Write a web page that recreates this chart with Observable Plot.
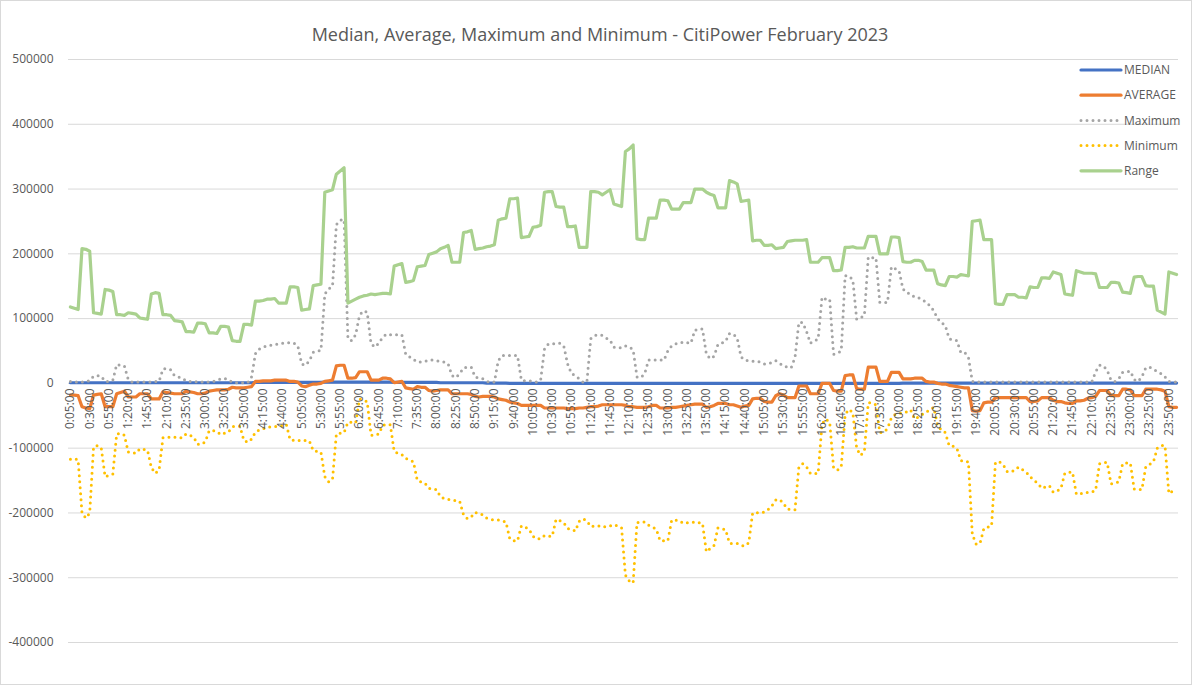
<!DOCTYPE html>
<html><head><meta charset="utf-8">
<script src="https://cdn.jsdelivr.net/npm/d3@7"></script>
<script src="https://cdn.jsdelivr.net/npm/@observablehq/plot@0.6"></script>
<style>body{margin:0;background:#fff}</style>
</head><body><div id="chart"></div>
<script>
// Values are in thousands (multiplied by UNIT when the table is built)
const UNIT = 1000;
const title = "Median, Average, Maximum and Minimum - CitiPower February 2023";
const seriesNames = ["MEDIAN", "AVERAGE", "Maximum", "Minimum", "Range"];

// 5-minute interval categories 0:05:00 ... 23:55:00, 0:00:00
const times = d3.range(288).map(i => {
  const m = 5 * (i + 1);
  return `${Math.floor(m / 60) % 24}:${String(m % 60).padStart(2, "0")}:00`;
});
const tickLabels = times.filter((_, i) => i % 5 === 0);

const median = [
 1,1,1, 1,1,1, 1,1,1, 1,1,1,
 1,1,1, 1,1,1, 1,1,1, 1,1,1,
 1,1,1, 1,1,1, 1,1,1, 1,1,1,
 1,1,1, 1,1,1, 1,1,1, 1,1,1,
 1.5,1.5,1.5, 1.5,1.5,1.5, 1.5,1.5,1.5, 1.5,1.5,1.5,
 1.5,1.5,1.5, 1.5,1.5,1.5, 2,2,2, 2,2,2,
 2,2,2, 2,2,2, 2,2,2, 2,2,2,
 1.5,1.5,1.5, 1.5,1.5,1.5, 1.5,1.5,1.5, 1.5,1.5,1.5,
 1,1,1, 1,1,1, 1,1,1, 1,1,1,
 0.5,0.5,0.5, 0.5,0.5,0.5, 0,0,0, 0,0,0,
 0,0,0, 0,0,0, 0,0,0, 0,0,0,
 0,0,0, 0,0,0, 0,0,0, 0,0,0,
 0,0,0, 0,0,0, 0,0,0, 0,0,0,
 0,0,0, 0,0,0, 0,0,0, 0,0,0,
 0,0,0, 0,0,0, 0,0,0, 0,0,0,
 0,0,0, 0,0,0, 0,0,0, 0,0,0,
 0,0,0, 0,0,0, 0,0,0, 0,0,0,
 0,0,0, 0,0,0, 0,0,0, 0,0,0,
 0.5,0.5,0.5, 0.5,0.5,0.5, 0.5,0.5,0.5, 0.5,0.5,0.5,
 0.5,0.5,0.5, 0.5,0.5,0.5, 0.5,0.5,0.5, 0.5,0.5,0.5,
 0.5,0.5,0.5, 0.5,0.5,0.5, 0.5,0.5,0.5, 0.5,0.5,0.5,
 0.5,0.5,0.5, 0.5,0.5,0.5, 0.5,0.5,0.5, 0.5,0.5,0.5,
 0.5,0.5,0.5, 0.5,0.5,0.5, 0.5,0.5,0.5, 0.5,0.5,0.5,
 0.5,0.5,0.5, 0.5,0.5,0.5, 0.5,0.5,0.5, 0.5,0.5,0.5
];

const average = [
 -18,-18,-19, -36,-38,-39, -18,-17,-16, -36,-36,-36,
 -16,-14,-12, -21,-21,-21, -16,-16,-16, -24,-24,-24,
 -13,-14,-15, -16,-16,-16, -12,-13,-14, -16,-16,-15,
 -12,-11,-10, -10,-10,-9, -6,-7,-7, -7,-6,-5,
 3,3,4, 4,4,5, 5,5,5, 3,3,2,
 -4,-5,-3, -1,-1,0, 3,4,5, 27,28,28,
 8,8,9, 18,18,18, 5,5,5, 8,8,7,
 1,2,3, -7,-8,-9, -5,-6,-6, -11,-12,-11,
 -10,-10,-10, -16,-16,-16, -16,-16,-17, -20,-21,-20,
 -20,-20,-21, -24,-25,-26, -29,-30,-31, -34,-34,-34,
 -34,-34,-34, -38,-38,-38, -38,-38,-38, -39,-39,-39,
 -38,-38,-37, -36,-36,-35, -33,-33,-33, -33,-33,-33,
 -34,-36,-36, -37,-37,-37, -36,-34,-34, -38,-38,-38,
 -37,-37,-36, -35,-34,-33, -32,-32,-32, -37,-36,-34,
 -31,-31,-31, -33,-33,-35, -37,-35,-34, -24,-23,-23,
 -28,-29,-29, -19,-16,-18, -22,-22,-22, -4,-4,-4,
 -16,-16,-16, 0,0,0, -11,-12,-12, 12,13,13,
 -8,-9,-9, 25,25,25, 3,3,3, 17,17,17,
 7,7,7, 8,8,8, 3,2,2, 0,-1,-1,
 -3,-4,-5, -6,-7,-7, -42,-43,-42, -30,-29,-29,
 -22,-22,-22, -22,-22,-22, -22,-22,-22, -28,-28,-27,
 -22,-22,-22, -26,-28,-28, -30,-31,-31, -27,-27,-26,
 -23,-22,-20, -11,-11,-11, -19,-19,-19, -9,-9,-10,
 -19,-19,-19, -9,-9,-9, -9,-10,-12, -36,-37,-37
];

const maximum = [
 3,2,2, 2,3,4, 11,12,11, 3,3,5,
 29,28,27, 6,2,2, 2,2,2, 2,3,3,
 22,23,21, 12,10,8, 4,3,3, 2,2,2,
 2,3,5, 7,8,5, 2,1,1, 1,1,10,
 46,53,56, 58,59,60, 61,62,62, 63,62,58,
 30,28,35, 48,50,51, 138,146,150, 245,252,253,
 69,66,75, 105,112,110, 61,56,62, 71,76,75,
 75,75,75, 45,41,37, 33,33,34, 36,36,35,
 34,33,30, 12,9,15, 24,25,25, 10,8,7,
 3,2,2, 35,43,43, 43,43,43, 5,4,4,
 3,2,5, 53,61,61, 62,62,58, 30,15,12,
 7,2,2, 69,74,75, 74,70,67, 56,55,55,
 58,56,52, 10,9,15, 36,36,36, 36,36,50,
 58,61,62, 64,63,62, 82,84,84, 45,38,42,
 60,62,65, 77,76,70, 41,36,35, 34,34,33,
 30,31,32, 35,31,27, 25,24,40, 94,94,80,
 62,66,68, 133,130,130, 45,47,50, 166,166,160,
 99,101,105, 195,194,194, 125,125,125, 180,177,174,
 146,140,138, 133,132,130, 125,120,112, 100,94,89,
 69,67,66, 48,48,40, 3,2,2, 2,2,2,
 2,2,2, 2,2,2, 2,2,2, 2,2,2,
 2,2,2, 2,2,2, 2,2,2, 2,2,2,
 2,2,18, 28,27,20, 5,3,7, 17,18,19,
 6,3,10, 24,25,22, 18,15,10, 3,2,2
];

const minimum = [
 -117,-116,-118, -200,-208,-200, -98,-96,-100, -144,-142,-140,
 -78,-77,-80, -106,-107,-108, -101,-102,-103, -130,-139,-134,
 -84,-83,-83, -83,-84,-84, -78,-80,-83, -94,-94,-90,
 -73,-73,-74, -79,-77,-75, -67,-66,-66, -88,-91,-86,
 -75,-72,-70, -68,-67,-67, -66,-65,-63, -87,-88,-88,
 -89,-88,-89, -104,-105,-106, -144,-152,-148, -78,-77,-76,
 -60,-60,-61, -24,-26,-28, -80,-80,-78, -65,-63,-64,
 -105,-108,-110, -116,-118,-121, -150,-152,-154, -162,-163,-164,
 -175,-178,-179, -180,-181,-182, -203,-209,-206, -199,-201,-203,
 -208,-210,-211, -211,-212,-214, -240,-243,-243, -220,-222,-225,
 -236,-240,-240, -235,-236,-236, -210,-212,-215, -224,-225,-228,
 -213,-209,-212, -221,-220,-220, -222,-221,-220, -218,-220,-223,
 -296,-305,-308, -215,-214,-214, -219,-222,-225, -243,-243,-243,
 -211,-211,-212, -216,-215,-215, -214,-215,-216, -260,-255,-250,
 -223,-224,-226, -247,-247,-247, -250,-251,-246, -200,-200,-199,
 -199,-195,-189, -180,-179,-185, -194,-195,-195, -129,-124,-129,
 -139,-139,-139, -63,-55,-60, -130,-134,-129, -48,-40,-45,
 -100,-111,-105, -30,-30,-33, -76,-75,-70, -53,-48,-46,
 -46,-44,-41, -55,-52,-48, -45,-40,-37, -65,-72,-76,
 -96,-97,-100, -119,-121,-121, -233,-248,-247, -224,-222,-220,
 -122,-121,-125, -136,-137,-134, -129,-133,-137, -144,-150,-154,
 -162,-160,-158, -168,-166,-162, -139,-137,-137, -171,-170,-170,
 -168,-168,-165, -124,-122,-122, -155,-154,-152, -124,-123,-123,
 -163,-164,-164, -129,-125,-121, -100,-96,-96, -170,-166,-164
];

const range = [
 118,116,114, 208,207,204, 109,108,107, 145,144,142,
 106,106,105, 109,108,107, 101,100,99, 138,140,139,
 106,106,105, 97,96,95, 80,80,79, 93,93,92,
 78,78,77, 88,88,87, 66,65,65, 91,91,90,
 127,127,128, 130,130,131, 124,124,124, 149,149,148,
 113,114,115, 151,152,153, 295,297,299, 323,328,333,
 124,127,130, 133,135,136, 138,137,138, 139,139,138,
 181,183,185, 156,157,159, 180,181,182, 199,201,203,
 208,210,213, 187,187,187, 233,234,236, 207,208,209,
 211,212,214, 252,254,255, 285,285,286, 225,226,227,
 241,242,244, 295,296,296, 273,272,272, 242,242,243,
 210,210,210, 296,296,295, 291,295,299, 277,275,273,
 358,362,368, 223,222,222, 255,255,255, 283,283,282,
 269,269,269, 279,279,279, 300,300,300, 295,292,290,
 271,271,271, 313,311,308, 281,282,283, 220,221,221,
 213,213,214, 208,209,210, 219,220,221, 221,221,222,
 187,187,187, 194,194,194, 174,174,175, 210,210,211,
 209,209,209, 227,227,227, 200,200,200, 226,226,225,
 188,187,187, 190,190,188, 175,175,175, 154,152,151,
 165,165,164, 168,167,166, 250,251,252, 222,222,222,
 123,122,122, 137,137,137, 133,133,132, 149,148,148,
 163,163,162, 172,170,168, 138,137,136, 174,172,170,
 170,170,169, 148,148,148, 156,156,155, 141,140,139,
 164,165,165, 151,150,150, 113,110,107, 172,170,168
];

const yTicks = d3.range(-400000, 500001, 100000);

const styles = {
  MEDIAN:  {stroke: "#4472c4", strokeWidth: 3.2, dash: null},
  AVERAGE: {stroke: "#ed7d31", strokeWidth: 3.2, dash: null},
  Maximum: {stroke: "#a5a5a5", strokeWidth: 3, dash: "0 6"},
  Minimum: {stroke: "#ffc000", strokeWidth: 3, dash: "0 6"},
  Range:   {stroke: "#a9d18e", strokeWidth: 3.2, dash: null}
};
const valuesBySeries = {MEDIAN: median, AVERAGE: average, Maximum: maximum, Minimum: minimum, Range: range};

const lineMarks = seriesNames.map(name => {
  const vals = valuesBySeries[name];
  const rows = times.map((t, i) => ({time: t, value: vals[i] * UNIT}));
  const s = styles[name];
  return Plot.line(rows, {
    x: "time", y: "value", stroke: s.stroke, strokeWidth: s.strokeWidth,
    strokeDasharray: s.dash, strokeLinecap: "round", strokeLinejoin: "round"
  });
});

const W = 1192, H = 685;
const chart = Plot.plot({
  width: W, height: H,
  marginLeft: 68, marginRight: 14, marginTop: 59, marginBottom: 43,
  style: {fontFamily: "'Open Sans', sans-serif", fontSize: "12px", color: "#595959", background: "#fff"},
  x: {type: "point", domain: times, padding: 0.5, axis: null},
  y: {domain: [-400000, 500000], axis: null},
  marks: [
    Plot.gridY(yTicks, {stroke: "#d9d9d9", strokeOpacity: 1, strokeWidth: 1}),
    Plot.axisY(yTicks, {tickSize: 0, tickPadding: 15, tickFormat: d => String(d), label: null, fontSize: 12, fill: "#595959"}),
    ...lineMarks,
    Plot.text(tickLabels, {x: d => d, y: () => 0, text: d => d, rotate: -90, textAnchor: "end",
      lineAnchor: "middle", dy: 5, fontSize: 12, fill: "#595959"})
  ]
});

const svg = d3.select(chart);
svg.append("rect").attr("x", 0.5).attr("y", 0.5).attr("width", W - 1).attr("height", H - 1)
  .attr("fill", "none").attr("stroke", "#d9d9d9");
svg.append("text").attr("x", 600).attr("y", 41).attr("text-anchor", "middle")
  .attr("font-size", 18).attr("fill", "#595959").text(title);

const lg = svg.append("g").attr("text-anchor", "start");
seriesNames.forEach((name, j) => {
  const y = 70 + j * 25.2;
  const s = styles[name];
  lg.append("line").attr("x1", 1081).attr("x2", 1121).attr("y1", y).attr("y2", y)
    .attr("stroke", s.stroke).attr("stroke-width", s.strokeWidth)
    .attr("stroke-dasharray", s.dash).attr("stroke-linecap", "round");
  lg.append("text").attr("x", 1124).attr("y", y).attr("dy", "0.35em")
    .attr("text-anchor", "start").attr("font-size", 12).attr("fill", "#595959").text(name);
});

document.getElementById("chart").appendChild(chart);
</script>
</body></html>
